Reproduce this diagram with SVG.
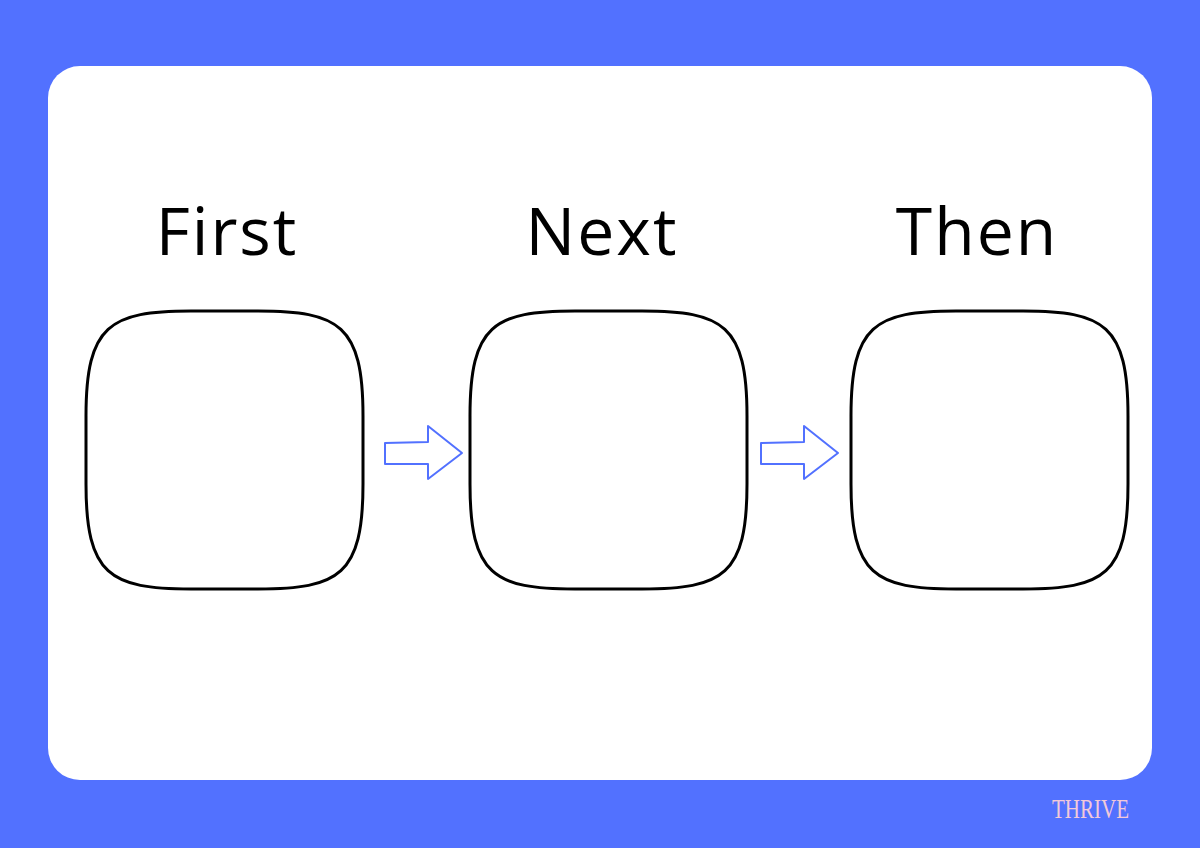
<svg xmlns="http://www.w3.org/2000/svg" width="1200" height="848" viewBox="0 0 1200 848">
<defs>
<style>
.box{fill:#fff;stroke:#000;stroke-width:3}
.lbl{font-family:"Open Sans","Noto Sans",sans-serif;font-size:66px;fill:#000;text-anchor:middle;letter-spacing:2px}
.arr{fill:#fff;stroke:#5271ff;stroke-width:2;stroke-linejoin:round}
</style>
</defs>
<rect width="1200" height="848" fill="#5271ff"/>
<rect x="48" y="66" width="1104" height="714" rx="32" fill="#fff"/>
<g id="first">
<text class="lbl" x="227" y="255">First</text>
<path class="box" d="M191,311 H258 C339,311 363,325 363,416 V484 C363,575 339,589 258,589 H191 C110,589 86,575 86,484 V416 C86,325 110,311 191,311 Z"/>
</g>
<g id="next">
<text class="lbl" x="602" y="255">Next</text>
<path class="box" d="M575,311 H642 C723,311 747,325 747,416 V484 C747,575 723,589 642,589 H575 C494,589 470,575 470,484 V416 C470,325 494,311 575,311 Z"/>
</g>
<g id="then">
<text class="lbl" x="977" y="255">Then</text>
<path class="box" d="M956,311 H1023 C1104,311 1128,325 1128,416 V484 C1128,575 1104,589 1023,589 H956 C875,589 851,575 851,484 V416 C851,325 875,311 956,311 Z"/>
</g>
<g id="connectors">
<path class="arr" d="M385,443 L428,442 L428,426 L462,453 L428,479 L428,464 L385,464 Z"/>
<path class="arr" d="M761,443 L804,442 L804,426 L838,453 L804,479 L804,464 L761,464 Z"/>
</g>
<text x="1052" y="818" font-family="Liberation Serif,serif" font-size="28" fill="#f2c9d9" textLength="77" lengthAdjust="spacingAndGlyphs">THRIVE</text>
</svg>
